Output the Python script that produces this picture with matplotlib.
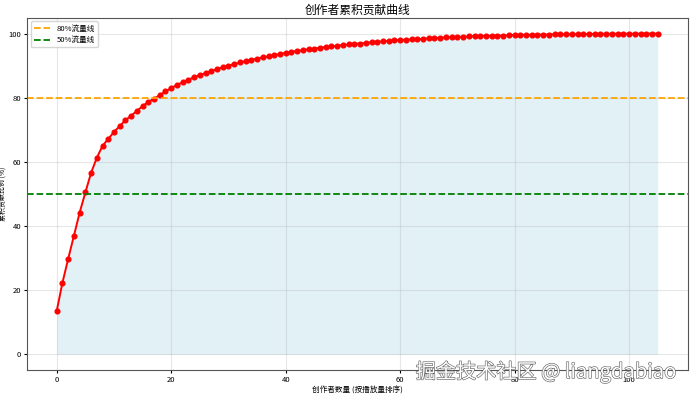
import matplotlib
matplotlib.use("agg")
import matplotlib.pyplot as plt
import matplotlib.patheffects as pe
import numpy as np

plt.rcParams['font.family'] = ['Noto Sans CJK SC', 'DejaVu Sans']
plt.rcParams['axes.unicode_minus'] = False

# cumulative share (%) of top-n creators
cum_share = [
    13.6, 22.4, 29.8, 37.0, 44.2, 50.5, 56.6, 61.3, 65.0, 67.2,
    69.3, 71.2, 73.0, 74.4, 75.9, 77.4, 78.7, 79.7, 80.8, 82.0,
    83.0, 84.0, 84.8, 85.6, 86.4, 87.1, 87.7, 88.3, 88.9, 89.5,
    90.0, 90.5, 91.0, 91.4, 91.8, 92.2, 92.6, 92.9, 93.3, 93.6,
    94.0, 94.3, 94.6, 94.8, 95.1, 95.3, 95.6, 95.8, 96.0, 96.2,
    96.4, 96.6, 96.8, 96.9, 97.1, 97.3, 97.4, 97.6, 97.7, 97.9,
    98.0, 98.1, 98.2, 98.3, 98.4, 98.5, 98.6, 98.7, 98.8, 98.9,
    99.0, 99.0, 99.1, 99.2, 99.2, 99.3, 99.3, 99.4, 99.4, 99.5,
    99.5, 99.6, 99.6, 99.6, 99.7, 99.7, 99.7, 99.8, 99.8, 99.8,
    99.8, 99.85, 99.87, 99.9, 99.9, 99.92, 99.93, 99.95, 99.96, 99.97,
    99.98, 99.98, 99.99, 99.99, 100.0, 100.0,
]
creators = np.arange(len(cum_share))

fig = plt.figure(figsize=(6.9, 3.97), dpi=100)
ax = fig.add_axes([0.0387, 0.0668, 0.958, 0.889])

ax.fill_between(creators, cum_share, color='lightblue', alpha=0.35, linewidth=0)
ax.plot(creators, cum_share, color='red', marker='o', markersize=3.4, linewidth=1.4)
ax.axhline(80, color='orange', linestyle='--', linewidth=1.3, label='80%流量线')
ax.axhline(50, color='green', linestyle='--', linewidth=1.3, label='50%流量线')

ax.set_title('创作者累积贡献曲线', fontsize=8.5, pad=3)
ax.set_xlabel('创作者数量 (按播放量排序)', fontsize=5.5, labelpad=2)
ax.set_ylabel('累积贡献比例 (%)', fontsize=5, labelpad=1)
ax.tick_params(labelsize=5.5, length=2, pad=2)
ax.grid(True, alpha=0.3)
ax.legend(loc='upper left', fontsize=5.5, handlelength=2.2)

for s in ax.spines.values():
    s.set_color('#555555')

# site watermark, bottom right
fig.text(0.98, 0.063, '掘金技术社区 @ liangdabiao', ha='right', va='center',
         fontsize=14.5, color='white',
         path_effects=[pe.withStroke(linewidth=0.9, foreground='#666666')])

fig.savefig('out.png', dpi=100)
